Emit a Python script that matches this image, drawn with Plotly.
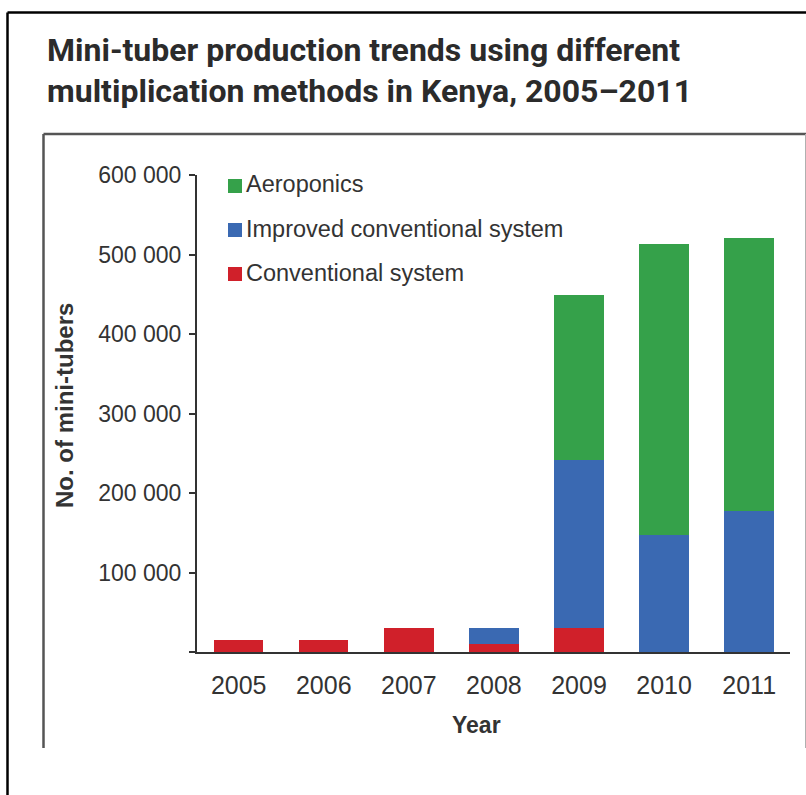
import plotly.graph_objects as go

# ---- data ----
years = ["2005", "2006", "2007", "2008", "2009", "2010", "2011"]
conventional = [15000, 15000, 30500, 10500, 30500, None, None]
improved = [None, None, None, 20000, 211000, 147000, 177000]
aeroponics = [None, None, None, None, 207500, 366000, 343500]
y_tickvals = [0, 100000, 200000, 300000, 400000, 500000, 600000]
y_ticktext = ["", "100 000", "200 000", "300 000", "400 000", "500 000", "600 000"]

series_names = ["Aeroponics", "Improved conventional system", "Conventional system"]
GREEN, BLUE, RED = "#35a14a", "#3a69b2", "#d0202a"
TXT = "#333333"

W, H = 806, 795
ML, MR, MT, MB = 197, 16, 175, 143
X0, X1, Y0, Y1 = ML, W - MR, MT, H - MB


def px(x):
    return (x - X0) / (X1 - X0)


def py(y):
    return (Y1 - y) / (Y1 - Y0)


fig = go.Figure()
for name, vals, col in [("Conventional system", conventional, RED),
                        ("Improved conventional system", improved, BLUE),
                        ("Aeroponics", aeroponics, GREEN)]:
    fig.add_trace(go.Bar(x=years, y=vals, name=name, marker=dict(color=col, line=dict(width=0)),
                         showlegend=False))

fig.update_layout(
    width=W, height=H,
    margin=dict(l=ML, r=MR, t=MT, b=MB),
    barmode="stack", bargap=0.42,
    plot_bgcolor="white", paper_bgcolor="white",
    font=dict(family="Liberation Sans, Arial, sans-serif", color=TXT),
    xaxis=dict(type="category", range=[-0.49, 6.48], showline=True, linecolor="#333333", linewidth=2,
               ticks="", showgrid=False, zeroline=False,
               tickfont=dict(size=25, color=TXT), ticklabelstandoff=10),
    yaxis=dict(range=[0, 600000], tickvals=y_tickvals, ticktext=y_ticktext, showline=True,
               linecolor="#333333", linewidth=2, ticks="outside", ticklen=6, tickwidth=2,
               tickcolor="#333333", showgrid=False, zeroline=False,
               tickfont=dict(size=23, color=TXT), ticklabelstandoff=3),
)

ann = []
# title
TF = dict(family="Roboto, Liberation Sans, Arial", size=32, color="#2b2b2b")
ann.append(dict(text="<b>Mini-tuber production trends using different</b>", x=px(45), y=py(50.5),
                xref="paper", yref="paper", xanchor="left", yanchor="middle", showarrow=False, font=TF))
ann.append(dict(text="<b>multiplication methods in Kenya, 2005–2011</b>", x=px(45), y=py(90.5),
                xref="paper", yref="paper", xanchor="left", yanchor="middle", showarrow=False, font=TF))
# axis titles
ann.append(dict(text="<b>Year</b>", x=px(476), y=py(725), xref="paper", yref="paper",
                xanchor="center", yanchor="middle", showarrow=False, font=dict(size=23, color=TXT)))
ann.append(dict(text="<b>No. of mini-tubers</b>", x=px(64), y=py(406), xref="paper", yref="paper",
                xanchor="center", yanchor="middle", showarrow=False, textangle=-90,
                font=dict(size=24, color=TXT)))

shapes = []
# legend
leg_cols = [GREEN, BLUE, RED]
leg_base = [193, 237, 281]
for name, col, b in zip(series_names, leg_cols, leg_base):
    shapes.append(dict(type="rect", xref="paper", yref="paper", x0=px(228), x1=px(242),
                       y0=py(b), y1=py(b - 14), fillcolor=col, line=dict(width=0)))
    ann.append(dict(text=name, x=px(244), y=py(b - 8.5), xref="paper", yref="paper",
                    xanchor="left", yanchor="middle", showarrow=False,
                    font=dict(size=23.5, color=TXT)))

# frames
shapes.append(dict(type="line", xref="paper", yref="paper", x0=px(7.5), x1=px(812), y0=py(12.5), y1=py(12.5),
                   line=dict(color="black", width=2.5)))
shapes.append(dict(type="line", xref="paper", yref="paper", x0=px(7.5), x1=px(7.5), y0=py(12.5), y1=py(800),
                   line=dict(color="black", width=2.5)))
shapes.append(dict(type="line", xref="paper", yref="paper", x0=px(43.5), x1=px(812), y0=py(134), y1=py(134),
                   line=dict(color="#555555", width=2.5)))
shapes.append(dict(type="line", xref="paper", yref="paper", x0=px(43.5), x1=px(43.5), y0=py(134), y1=py(748),
                   line=dict(color="#555555", width=2.5)))
shapes.append(dict(type="line", xref="paper", yref="paper", x0=px(805.5), x1=px(805.5), y0=py(134), y1=py(748),
                   line=dict(color="#b0b0b0", width=1)))

fig.update_layout(annotations=ann, shapes=shapes)
fig.write_html("out.html", config={"displayModeBar": False},
               post_script="document.body.style.margin='0';document.body.style.overflow='hidden';")
